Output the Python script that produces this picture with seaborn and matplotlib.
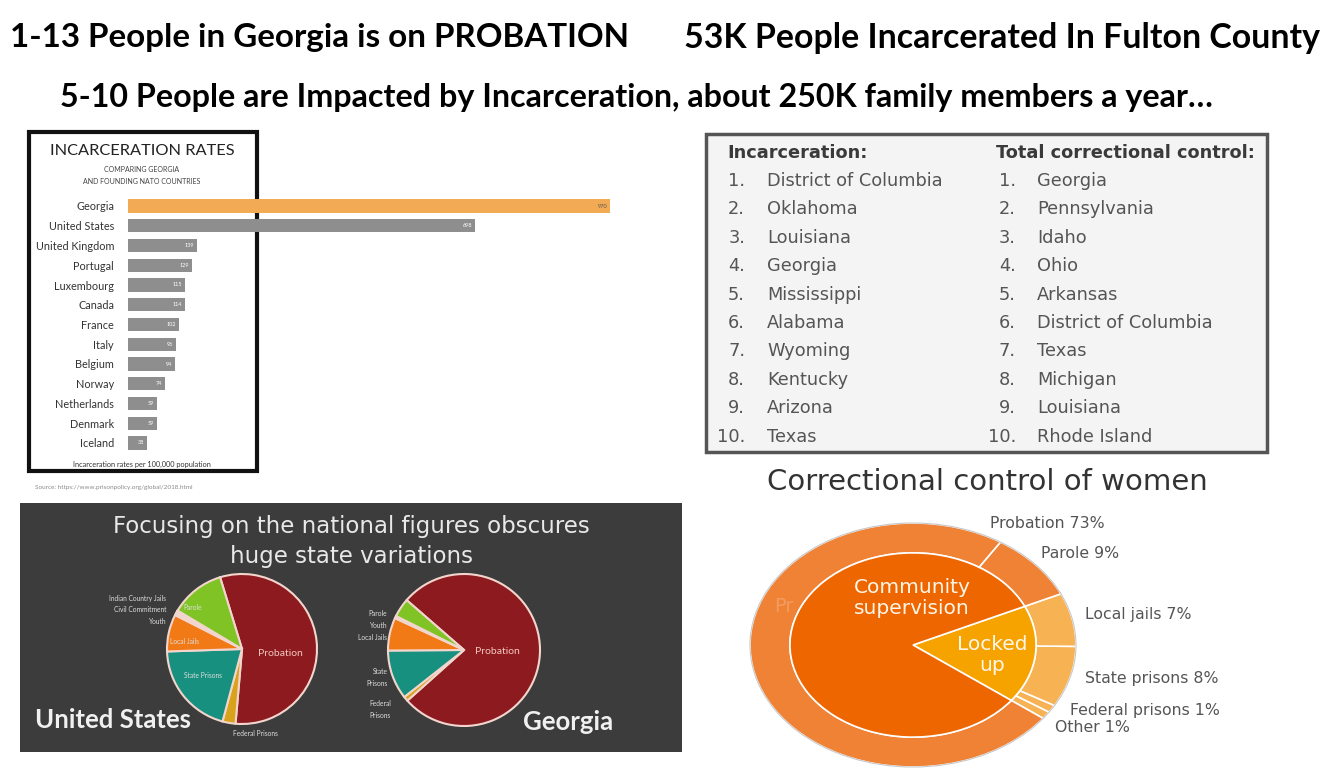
import matplotlib
matplotlib.use("Agg")
import matplotlib.pyplot as plt
import seaborn as sns
import pandas as pd
from matplotlib.patches import Rectangle, Circle

# canvas size in pixels (dpi 100)
W, H = 1335, 777

# --- data ---
countries = ["Georgia", "United States", "United Kingdom", "Portugal", "Luxembourg",
             "Canada", "France", "Italy", "Belgium", "Norway", "Netherlands",
             "Denmark", "Iceland"]
rates = [970, 698, 139, 129, 115, 114, 102, 96, 94, 74, 59, 59, 38]

incarceration_rank = ["District of Columbia", "Oklahoma", "Louisiana", "Georgia",
                      "Mississippi", "Alabama", "Wyoming", "Kentucky", "Arizona", "Texas"]
control_rank = ["Georgia", "Pennsylvania", "Idaho", "Ohio", "Arkansas",
                "District of Columbia", "Texas", "Michigan", "Louisiana", "Rhode Island"]

us_groups = ["Probation", "Federal Prisons", "State Prisons", "Local Jails",
             "Youth", "Civil Commitment", "Indian Country Jails", "Parole"]
us_share = [56.1, 2.8, 20.3, 8.0, 0.6, 0.4, 0.1, 11.7]

ga_groups = ["Probation", "Federal Prisons", "State Prisons", "Local Jails", "Youth", "Parole"]
ga_share = [77.0, 1.0, 10.5, 7.0, 0.5, 4.0]

women_outer = ["Other", "Federal prisons", "State prisons", "Local jails", "Parole", "Probation"]
women_outer_pct = [1, 1, 8, 7, 9, 73]
women_inner = ["Locked up", "Community supervision"]
women_inner_pct = [17, 82]

# --- style ---
sns.set_theme(style="white")
plt.rcParams["font.family"] = ["Lato", "DejaVu Sans"]
WIDE = ["DejaVu Sans"]

fig = plt.figure(figsize=(W / 100, H / 100), dpi=100)
fig.patch.set_facecolor("white")


def px_axes(x, y, w, h):
    """axes placed with pixel coords (top-left origin)"""
    return fig.add_axes([x / W, 1 - (y + h) / H, w / W, h / H])


def pie_axes(cx, cy, rx, ry, pad=1.04):
    ax = px_axes(cx - rx * pad, cy - ry * pad, 2 * rx * pad, 2 * ry * pad)
    ax.patch.set_alpha(0)
    return ax


def fix_pie(ax, pad=1.04):
    ax.set_xlim(-pad, pad)
    ax.set_ylim(-pad, pad)
    ax.set_aspect("auto")
    ax.axis("off")


def layer():
    ax = fig.add_axes([0, 0, 1, 1])
    ax.set_xlim(0, W)
    ax.set_ylim(H, 0)
    ax.axis("off")
    return ax


# bottom layer: panel boxes
bg = layer()
bg.add_patch(Rectangle((29, 132), 228, 339, facecolor="white", edgecolor="#111111", lw=3))
bg.add_patch(Rectangle((706, 134), 561, 318, facecolor="#f4f4f4", edgecolor="#555555", lw=2.5))
bg.add_patch(Rectangle((20, 503), 662, 249, facecolor="#3c3c3c", edgecolor="none"))

# --- incarceration rates bars ---
step = 19.75
axb = px_axes(128, 206 - step / 2, 497, 13 * step)
df_bar = pd.DataFrame({"country": countries, "rate": rates})
pal = {c: "#8e8e8e" for c in countries}
pal["Georgia"] = "#f2aa55"
sns.barplot(data=df_bar, x="rate", y="country", hue="country", palette=pal, legend=False,
            width=0.68, saturation=1, linewidth=0, ax=axb)
axb.set_xlim(0, 1000)
axb.set_ylim(12.5, -0.5)
axb.set_xlabel("")
axb.set_ylabel("")
axb.set_xticks([])
axb.tick_params(axis="y", length=0, pad=10, labelsize=7.8, labelcolor="#333333")
axb.patch.set_alpha(0)
sns.despine(ax=axb, left=True, bottom=True)
for i, v in enumerate(rates):
    axb.text(v - 6, i, str(v), ha="right", va="center", fontsize=4,
             color="#555555" if i == 0 else "white")

# --- pies on the dark panel ---
state_colors = {"Probation": "#8d1a1f", "Federal Prisons": "#d9a21b", "State Prisons": "#17907f",
                "Local Jails": "#f27a16", "Youth": "#d6e6ef", "Civil Commitment": "#b9d3e6",
                "Indian Country Jails": "#ffffff", "Parole": "#7fc424"}
wp = dict(edgecolor="#f2d5cd", linewidth=1.5)

axu = pie_axes(242, 649, 75, 75)
axu.pie(us_share, colors=[state_colors[g] for g in us_groups], startangle=107,
        counterclock=False, wedgeprops=wp)
fix_pie(axu)

axg = pie_axes(464, 650, 76, 76)
axg.pie(ga_share, colors=[state_colors[g] for g in ga_groups], startangle=139,
        counterclock=False, wedgeprops=wp)
fix_pie(axg)

# --- women donut ---
outer_colors = ["#f7b253", "#f7b253", "#f7b253", "#f7b253", "#f08236", "#f08236"]
axw = pie_axes(913, 645, 163, 122, pad=1.02)
axw.pie(women_outer_pct, radius=1, colors=outer_colors, startangle=-37,
        wedgeprops=dict(width=0.245, edgecolor="white", linewidth=1.2))
axw.pie(women_inner_pct, radius=0.755, colors=["#f6a300", "#ee6600"], startangle=-37,
        wedgeprops=dict(edgecolor="white", linewidth=1.2))
axw.add_patch(Circle((0, 0), 1, fill=False, edgecolor="#c8c8c8", lw=0.8))
fix_pie(axw, pad=1.02)

# top layer: all free text
fg = layer()

# headline text
fg.text(10, 38, "1-13 People in Georgia is on PROBATION", fontsize=23.9, fontweight="bold",
        color="black", va="center", ha="left")
fg.text(1320, 38, "53K People Incarcerated In Fulton County", fontsize=24.4, fontweight="bold",
        color="black", va="center", ha="right")
fg.text(60, 97, "5-10 People are Impacted by Incarceration, about 250K family members a year…",
        fontsize=23.2, fontweight="bold", color="black", va="center", ha="left")

# rates panel text
fg.text(142, 151, "INCARCERATION RATES", fontsize=11.8, color="#222222", ha="center", va="center")
fg.text(142, 169, "COMPARING GEORGIA", fontsize=5, color="#444444", ha="center", va="center")
fg.text(142, 181, "AND FOUNDING NATO COUNTRIES", fontsize=5, color="#444444", ha="center", va="center")
fg.text(142, 464, "Incarceration rates per 100,000 population", fontsize=5.3, color="#333333",
        ha="center", va="center")
fg.text(35, 488, "Source: https://www.prisonpolicy.org/global/2018.html", fontsize=4.6,
        color="#8a8a8a", ha="left", va="center")

# ranking table text
tf = dict(fontsize=12.8, family=WIDE, va="center")
fg.text(727, 153, "Incarceration:", fontweight="bold", color="#3a3a3a", ha="left", **tf)
fg.text(996, 153, "Total correctional control:", fontweight="bold", color="#3a3a3a",
        ha="left", **tf)
row_gap = 28.4
for i, (a, b) in enumerate(zip(incarceration_rank, control_rank)):
    y = 181 + i * row_gap
    fg.text(745, y, f"{i + 1}.", color="#555555", ha="right", **tf)
    fg.text(767, y, a, color="#555555", ha="left", **tf)
    fg.text(1016, y, f"{i + 1}.", color="#555555", ha="right", **tf)
    fg.text(1037, y, b, color="#555555", ha="left", **tf)

# dark panel text
fg.text(351, 527, "Focusing on the national figures obscures", fontsize=16.5, family=WIDE,
        color="#e8e8e8", ha="center", va="center")
fg.text(351, 557, "huge state variations", fontsize=16.5, family=WIDE, color="#e8e8e8",
        ha="center", va="center")
fg.text(35, 720, "United States", fontsize=18.5, fontweight="bold", color="#f0f0f0", va="center")
fg.text(523, 722, "Georgia", fontsize=18.5, fontweight="bold", color="#f0f0f0", va="center")

lbl = dict(fontsize=4.8, color="#dddddd", va="center")
fg.text(280, 654, "Probation", fontsize=7.5, color="#f3c6c0", ha="center", va="center")
fg.text(193, 608, "Parole", ha="center", **lbl)
fg.text(184, 641, "Local Jails", ha="center", **lbl)
fg.text(203, 676, "State Prisons", ha="center", **lbl)
fg.text(255, 733, "Federal Prisons", ha="center", **lbl)
fg.text(166, 598, "Indian Country Jails", ha="right", **lbl)
fg.text(166, 609, "Civil Commitment", ha="right", **lbl)
fg.text(166, 621, "Youth", ha="right", **lbl)

fg.text(497, 651, "Probation", fontsize=7.5, color="#f3c6c0", ha="center", va="center")
fg.text(387, 614, "Parole", ha="right", **lbl)
fg.text(387, 626, "Youth", ha="right", **lbl)
fg.text(387, 638, "Local Jails", ha="right", **lbl)
fg.text(388, 672, "State", ha="right", **lbl)
fg.text(388, 684, "Prisons", ha="right", **lbl)
fg.text(380, 703, "Federal", ha="center", **lbl)
fg.text(380, 716, "Prisons", ha="center", **lbl)

# women donut text
fg.text(987, 482, "Correctional control of women", fontsize=21, family=WIDE,
        color="#333333", ha="center", va="center")
fg.text(784, 606, "Pr", fontsize=14, family=WIDE, color="#f39a5e", ha="center", va="center")
fg.text(912, 598, "Community\nsupervision", fontsize=14.5, family=WIDE, color="#fff6ea",
        ha="center", va="center", linespacing=1.1)
fg.text(992, 655, "Locked\nup", fontsize=14.5, family=WIDE, color="#fff6ea", ha="center",
        va="center", linespacing=1.1)
wl = dict(fontsize=11.3, family=WIDE, color="#555555", ha="left", va="center")
fg.text(990, 524, "Probation 73%", **wl)
fg.text(1041, 553, "Parole 9%", **wl)
fg.text(1085, 615, "Local jails 7%", **wl)
fg.text(1085, 678, "State prisons 8%", **wl)
fg.text(1070, 711, "Federal prisons 1%", **wl)
fg.text(1055, 727, "Other 1%", **wl)

plt.savefig("out.png", dpi=100)
plt.close()
